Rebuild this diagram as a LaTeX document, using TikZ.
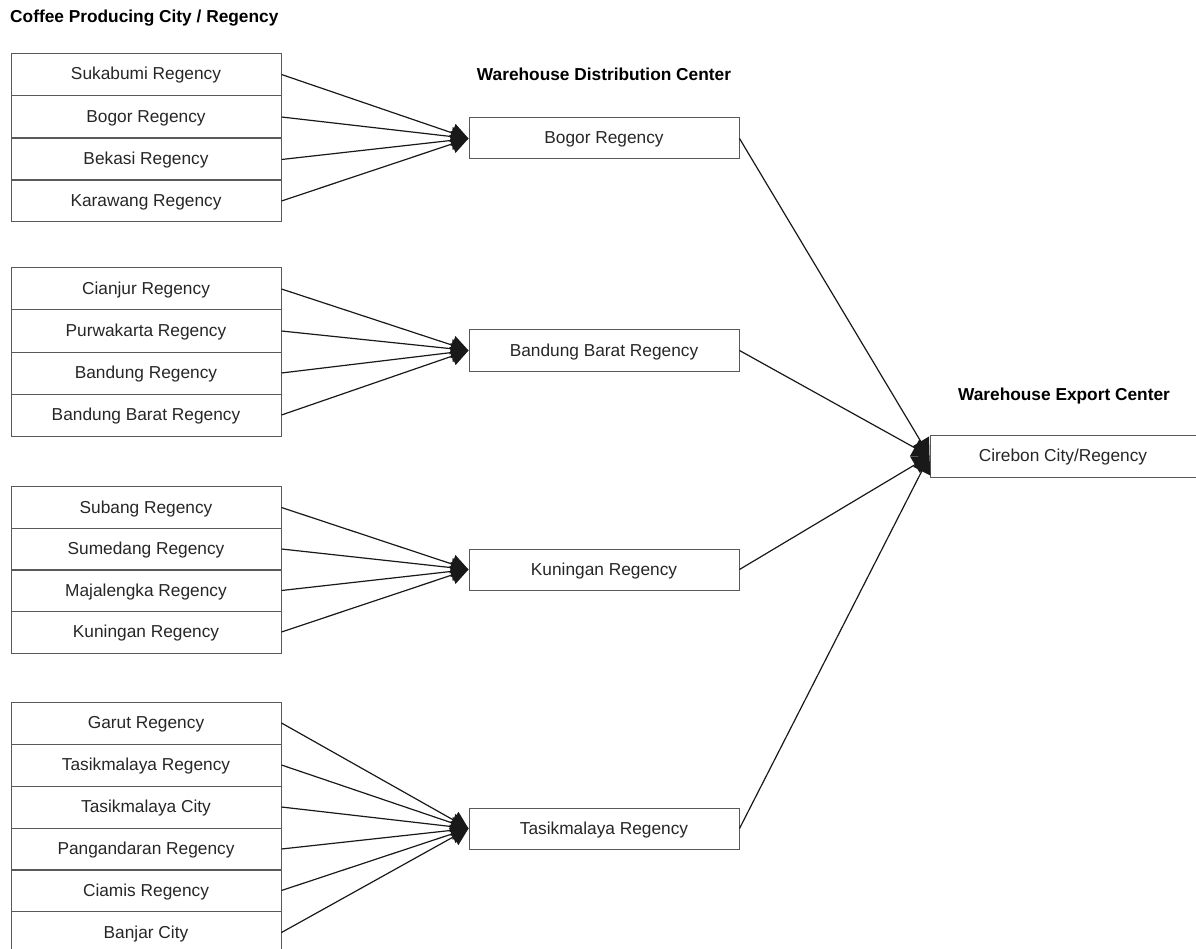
\documentclass[tikz,border=0pt]{standalone}
\usepackage{fontspec}
\setmainfont{Liberation Sans}
\usetikzlibrary{arrows.meta}
\begin{document}
\begin{tikzpicture}[x=1pt,y=-1pt,
  cell/.style={draw=black!65, line width=1pt, minimum width=270pt, minimum height=42pt, inner sep=0pt, text height=13pt, text depth=2pt, font=\fontsize{17.3}{20}\selectfont, text=black!85},
  hub/.style={cell, minimum height=41pt},
  exportbox/.style={cell, minimum width=266pt},
  title/.style={font=\bfseries\fontsize{17.3}{20}\selectfont, inner sep=0pt, text height=13pt, text depth=2pt},
  conn/.style={line width=1.2pt, draw=black!90, -{Triangle[length=17pt,width=19pt]}}]
\useasboundingbox (0,0) rectangle (1196,949);
% titles
\node[title, anchor=west] (t1) at (10,17) {Coffee Producing City / Regency};
\node[title] (t2) at (604,75) {Warehouse Distribution Center};
\node[title] (t3) at (1064,395) {Warehouse Export Center};
% group 1
\node[cell] (a1) at (146,74.5) {Sukabumi Regency};
\node[cell] (a2) at (146,117) {Bogor Regency};
\node[cell] (a3) at (146,159.5) {Bekasi Regency};
\node[cell] (a4) at (146,201) {Karawang Regency};
% group 2
\node[cell] (b1) at (146,289) {Cianjur Regency};
\node[cell] (b2) at (146,331) {Purwakarta Regency};
\node[cell] (b3) at (146,373) {Bandung Regency};
\node[cell] (b4) at (146,415) {Bandung Barat Regency};
% group 3
\node[cell] (c1) at (146,507.5) {Subang Regency};
\node[cell] (c2) at (146,549) {Sumedang Regency};
\node[cell] (c3) at (146,590.5) {Majalengka Regency};
\node[cell] (c4) at (146,632) {Kuningan Regency};
% group 4
\node[cell] (d1) at (146,723) {Garut Regency};
\node[cell] (d2) at (146,765) {Tasikmalaya Regency};
\node[cell] (d3) at (146,807) {Tasikmalaya City};
\node[cell] (d4) at (146,849) {Pangandaran Regency};
\node[cell] (d5) at (146,890.5) {Ciamis Regency};
\node[cell] (d6) at (146,932.5) {Banjar City};
% hubs
\node[hub] (h1) at (604,138.5) {Bogor Regency};
\node[hub] (h2) at (604,350.5) {Bandung Barat Regency};
\node[hub] (h3) at (604,569.5) {Kuningan Regency};
\node[hub] (h4) at (604,828.5) {Tasikmalaya Regency};
% export
\node[exportbox] (e) at (1063,456) {Cirebon City/Regency};
% connectors
\foreach \s in {a1,a2,a3,a4} \draw[conn] (\s.east) -- (h1.west);
\foreach \s in {b1,b2,b3,b4} \draw[conn] (\s.east) -- (h2.west);
\foreach \s in {c1,c2,c3,c4} \draw[conn] (\s.east) -- (h3.west);
\foreach \s in {d1,d2,d3,d4,d5,d6} \draw[conn] (\s.east) -- (h4.west);
\foreach \s in {h1,h2,h3,h4} \draw[conn] (\s.east) -- (e.west);
\end{tikzpicture}
\end{document}
